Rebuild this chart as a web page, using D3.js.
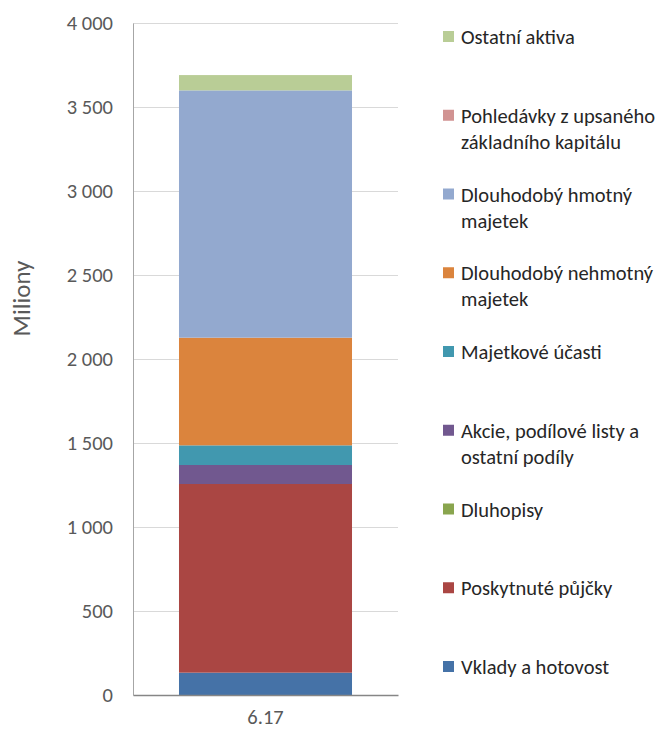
<!DOCTYPE html>
<html>
<head>
<meta charset="utf-8">
<script src="https://cdn.jsdelivr.net/npm/d3@7"></script>
<style>
    body { margin: 0; background: #fff; }
    text { font-family: Carlito, Calibri, Lato, sans-serif; }
</style>
</head>
<body>
<svg id="chart" width="664" height="729"></svg>
<script>
//categories and series (stacked bottom to top)
var categories = ['6.17'];
var seriesNames = ['Vklady a hotovost', 'Poskytnuté půjčky', 'Dluhopisy',
    'Akcie, podílové listy a ostatní podíly', 'Majetkové účasti',
    'Dlouhodobý nehmotný majetek', 'Dlouhodobý hmotný majetek',
    'Pohledávky z upsaného základního kapitálu', 'Ostatní aktiva'];
var seriesValues = [133, 1123, 0, 113, 117, 641, 1472, 0, 91];
var seriesColors = ['#4572a7', '#aa4643', '#89a54e', '#71588f', '#4198af',
    '#db843d', '#93a9cf', '#d19392', '#b9cd96'];
//legend lines, top to bottom
var legendLines = [
    ['Ostatní aktiva'],
    ['Pohledávky z upsaného', 'základního kapitálu'],
    ['Dlouhodobý hmotný', 'majetek'],
    ['Dlouhodobý nehmotný', 'majetek'],
    ['Majetkové účasti'],
    ['Akcie, podílové listy a', 'ostatní podíly'],
    ['Dluhopisy'],
    ['Poskytnuté půjčky'],
    ['Vklady a hotovost']
];
var yTicks = [0, 500, 1000, 1500, 2000, 2500, 3000, 3500, 4000];
var yTitle = 'Miliony';

var svg = d3.select('#chart');
var m = { left: 133, right: 266, top: 23, bottom: 34 }; //plot area
var w = 664 - m.left - m.right, h = 729 - m.top - m.bottom;
var g = svg.append('g').attr('transform', 'translate(' + m.left + ',' + m.top + ')');

var loc = d3.formatLocale({ decimal: ',', thousands: '\u00a0', grouping: [3], currency: ['', ''] });
var fmt = loc.format(',d');

var y = d3.scaleLinear().domain([0, 4000]).range([h, 0]);
var x = d3.scaleBand().domain(categories).range([0, w]).padding(0.21);

//gridlines
g.selectAll('.grid').data(yTicks.slice(1)).enter().append('line')
    .attr('x1', 0).attr('x2', w)
    .attr('y1', function (d) { return y(d) + 0.5; })
    .attr('y2', function (d) { return y(d) + 0.5; })
    .attr('stroke', '#d9d9d9').attr('stroke-width', 1);

//stack
var row = {};
seriesNames.forEach(function (s, i) { row[s] = seriesValues[i]; });
var stack = d3.stack().keys(seriesNames)([row]);

g.selectAll('.seg').data(stack).enter().append('rect')
    .attr('x', x(categories[0]))
    .attr('width', x.bandwidth())
    .attr('y', function (d) { return y(d[0][1]); })
    .attr('height', function (d) { return y(d[0][0]) - y(d[0][1]); })
    .attr('fill', function (d, i) { return seriesColors[i]; });

//y axis
var yAxis = g.append('g').call(d3.axisLeft(y).tickValues(yTicks).tickFormat(fmt).tickSize(0).tickPadding(20));
yAxis.select('.domain').attr('stroke', '#a6a6a6');
yAxis.selectAll('text').attr('font-size', 20.5).attr('fill', '#595959');

//x axis
var xAxis = g.append('g').attr('transform', 'translate(0,' + h + ')')
    .call(d3.axisBottom(x).tickSize(0).tickPadding(14));
xAxis.select('.domain').attr('stroke', '#868686').attr('stroke-width', 1.5);
xAxis.selectAll('text').attr('font-size', 20.5).attr('fill', '#595959');

svg.append('text')
    .attr('transform', 'translate(30,' + (m.top + h * 0.41) + ') rotate(-90)')
    .attr('text-anchor', 'middle')
    .attr('font-size', 25).attr('fill', '#595959')
    .text(yTitle);

//legend
var legColors = seriesColors.slice().reverse();
var ly = d3.scalePoint().domain(d3.range(legendLines.length)).range([37, 667]);
var leg = svg.append('g').selectAll('g').data(legendLines).enter().append('g')
    .attr('transform', function (d, i) { return 'translate(443,' + ly(i) + ')'; });
leg.append('rect').attr('x', 0).attr('y', -6).attr('width', 11).attr('height', 11)
    .attr('fill', function (d, i) { return legColors[i]; });
leg.append('text').attr('x', 18).attr('y', 7)
    .attr('font-size', 20.5).attr('fill', '#262626')
    .selectAll('tspan').data(function (d) { return d; }).enter().append('tspan')
    .attr('x', 18).attr('dy', function (d, i) { return i ? 26 : 0; })
    .text(function (d) { return d; });
</script>
</body>
</html>
